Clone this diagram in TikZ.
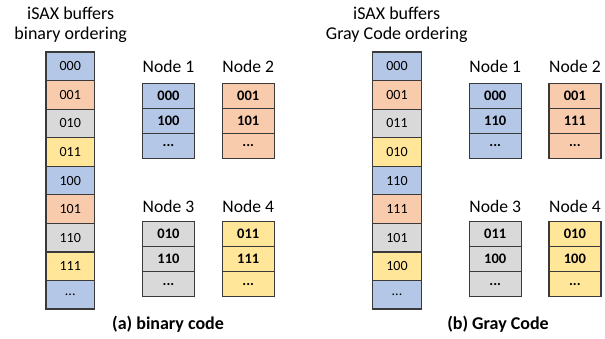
\documentclass[tikz,border=0pt]{standalone}
\usepackage{fontspec}
\setmainfont{Carlito}
\definecolor{cblue}{HTML}{B4C7E7}
\definecolor{corange}{HTML}{F8CBAD}
\definecolor{cgray}{HTML}{D9D9D9}
\definecolor{cyellow}{HTML}{FFE699}
\definecolor{cline}{HTML}{3A3A3A}
\newcommand{\cdts}{...}
\begin{document}
\begin{tikzpicture}[x=1pt,y=-1pt,
  colcell/.style={draw=cline,line width=1.2pt,minimum width=48.5pt,minimum height=28.56pt,inner sep=0pt,
    font=\fontsize{14}{16}\selectfont},
  nodecell/.style={draw=cline,line width=1.2pt,minimum width=52pt,minimum height=25pt,inner sep=0pt,
    font=\fontsize{14.5}{16}\selectfont\bfseries},
  nlabel/.style={font=\fontsize{17.6}{20}\selectfont,inner sep=0pt},
  title/.style={font=\fontsize{18}{20}\selectfont,inner sep=0pt},
  caption/.style={font=\fontsize{18}{20}\selectfont\bfseries,inner sep=0pt}]
\useasboundingbox (0,0) rectangle (605,339);
% ---------- (a) ----------
\node[title] (ta1) at (70.7,13) {iSAX buffers};
\node[title] (ta2) at (70.7,35) {binary ordering};
\foreach \t/\c [count=\i from 0] in {000/cblue,001/corange,010/cgray,011/cyellow,100/cblue,101/corange,110/cgray,111/cyellow,\cdts/cblue}{
  \node[colcell,fill=\c] (ac\i) at (70.25,{52+28.56*\i+14.28}) {\t};
}
\node[nlabel] (an1) at (168.5,66) {Node 1};
\node[nlabel] (an2) at (248.2,66) {Node 2};
\node[nlabel] (an3) at (168.5,206) {Node 3};
\node[nlabel] (an4) at (248.2,206) {Node 4};
\foreach \t [count=\i from 0] in {000,100,\cdts}{
  \node[nodecell,fill=cblue] (a1r\i) at (168.5,{83.3+25*\i+12.5}) {\t};}
\foreach \t [count=\i from 0] in {001,101,\cdts}{
  \node[nodecell,fill=corange] (a2r\i) at (248.2,{83.3+25*\i+12.5}) {\t};}
\foreach \t [count=\i from 0] in {010,110,\cdts}{
  \node[nodecell,fill=cgray] (a3r\i) at (168.5,{221.7+25*\i+12.5}) {\t};}
\foreach \t [count=\i from 0] in {011,111,\cdts}{
  \node[nodecell,fill=cyellow] (a4r\i) at (248.2,{221.7+25*\i+12.5}) {\t};}
\node[caption] (capa) at (168,324) {(a) binary code};
% ---------- (b) ----------
\node[title] (tb1) at (396.7,13) {iSAX buffers};
\node[title] (tb2) at (396.7,35) {Gray Code ordering};
\foreach \t/\c [count=\i from 0] in {000/cblue,001/corange,011/cgray,010/cyellow,110/cblue,111/corange,101/cgray,100/cyellow,\cdts/cblue}{
  \node[colcell,fill=\c] (bc\i) at (397,{52+28.56*\i+14.28}) {\t};
}
\node[nlabel] (bn1) at (495.2,66) {Node 1};
\node[nlabel] (bn2) at (574.9,66) {Node 2};
\node[nlabel] (bn3) at (495.2,206) {Node 3};
\node[nlabel] (bn4) at (574.9,206) {Node 4};
\foreach \t [count=\i from 0] in {000,110,\cdts}{
  \node[nodecell,fill=cblue] (b1r\i) at (495.2,{83.3+25*\i+12.5}) {\t};}
\foreach \t [count=\i from 0] in {001,111,\cdts}{
  \node[nodecell,fill=corange] (b2r\i) at (574.9,{83.3+25*\i+12.5}) {\t};}
\foreach \t [count=\i from 0] in {011,100,\cdts}{
  \node[nodecell,fill=cgray] (b3r\i) at (495.2,{221.7+25*\i+12.5}) {\t};}
\foreach \t [count=\i from 0] in {010,100,\cdts}{
  \node[nodecell,fill=cyellow] (b4r\i) at (574.9,{221.7+25*\i+12.5}) {\t};}
\node[caption] (capb) at (498,324) {(b) Gray Code};
\end{tikzpicture}
\end{document}
